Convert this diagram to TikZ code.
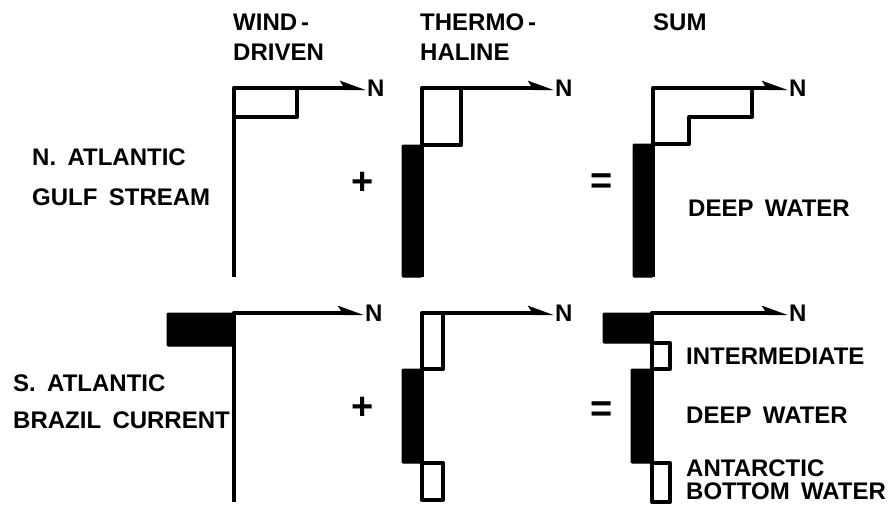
\documentclass[tikz,border=0pt]{standalone}
\usepackage{fontspec}
\setmainfont{Liberation Sans}[WordSpace=1.7]
\usetikzlibrary{arrows.meta, positioning, calc}

\begin{document}
\begin{tikzpicture}[
  x=1pt, y=-1pt,
  axis/.style={line width=4.2pt, line join=round, -{Stealth[harpoon, length=20pt, width=14pt, inset=4pt]}},
  outl/.style={line width=4pt, line join=round},
  solidbar/.style={fill=black, draw=black, line width=1pt, rounded corners=1pt},
  lab/.style={inner sep=0pt, anchor=west, align=left, font=\bfseries\fontsize{24}{23}\selectfont},
  head/.style={inner sep=0pt, anchor=north west, align=left, font=\bfseries\fontsize{24}{30}\selectfont},
  sign/.style={inner sep=0pt, font=\bfseries\fontsize{38}{38}\selectfont}
]
\useasboundingbox (0,0) rectangle (890,512);

% Column headings
\node[head] (hwind) at (233,14) {WIND\,-\\DRIVEN};
\node[head] (htherm) at (420,14) {THERMO\,-\\HALINE};
\node[head] (hsum) at (653,14) {SUM};

% Row labels
\node[lab, font=\bfseries\fontsize{24}{40}\selectfont] (lnorth) at (32,177) {N. ATLANTIC\\GULF STREAM};
\node[lab, font=\bfseries\fontsize{24}{37}\selectfont] (lsouth) at (13,402) {S. ATLANTIC\\BRAZIL CURRENT};

% North: wind-driven
\coordinate (wn) at (234,88);
\draw[axis] (234,277) -- (wn) -- (366,88) coordinate (wnend);
\draw[outl] (234,117) -- (297,117) -- (297,88);
\node[lab, right=1pt of wnend] (nwn) {N};

% North: thermohaline
\coordinate (tn) at (422,88);
\fill[solidbar] (402,145) rectangle (422,277);
\draw[axis] (422,277) -- (tn) -- (554,88) coordinate (tnend);
\draw[outl] (422,145) -- (461,145) -- (461,88);
\node[lab, right=1pt of tnend] (ntn) {N};

% North: sum
\coordinate (sn) at (653,88);
\fill[solidbar] (633,144) rectangle (653,277);
\draw[axis] (653,277) -- (sn) -- (788,88) coordinate (snend);
\draw[outl] (653,144) -- (689,144) -- (689,117) -- (752,117) -- (752,88);
\node[lab, right=1pt of snend] (nsn) {N};
\node[lab] (ldeep1) at (688,208) {DEEP WATER};

\node[sign] (plus1) at (363,183) {+};
\node[sign] (eq1) at (602,184) {=};

% South: wind-driven
\coordinate (ws) at (234,313);
\fill[solidbar] (167,313) rectangle (234,346);
\draw[axis] (234,502) -- (ws) -- (364,313) coordinate (wsend);
\node[lab, right=1pt of wsend] (nws) {N};

% South: thermohaline
\coordinate (ts) at (422,313);
\fill[solidbar] (402,369) rectangle (422,463);
\draw[axis] (422,500) -- (ts) -- (554,313) coordinate (tsend);
\draw[outl] (422,369) -- (443,369) -- (443,313);
\draw[outl] (422,463) rectangle (443,500);
\node[lab, right=1pt of tsend] (nts) {N};

% South: sum
\coordinate (ss) at (652,313);
\fill[solidbar] (603,313) rectangle (652,343);
\fill[solidbar] (631,369) rectangle (652,463);
\draw[axis] (652,502) -- (ss) -- (788,313) coordinate (ssend);
\draw[outl] (652,343) rectangle (670,369);
\draw[outl] (652,463) rectangle (670,502);
\node[lab, right=1pt of ssend] (nss) {N};
\node[lab] (linter) at (686,356) {INTERMEDIATE};
\node[lab] (ldeep2) at (686,415) {DEEP WATER};
\node[lab] (lbottom) at (686,480) {ANTARCTIC\\BOTTOM WATER};

\node[sign] (plus2) at (363,408) {+};
\node[sign] (eq2) at (602,412) {=};

\end{tikzpicture}
\end{document}
